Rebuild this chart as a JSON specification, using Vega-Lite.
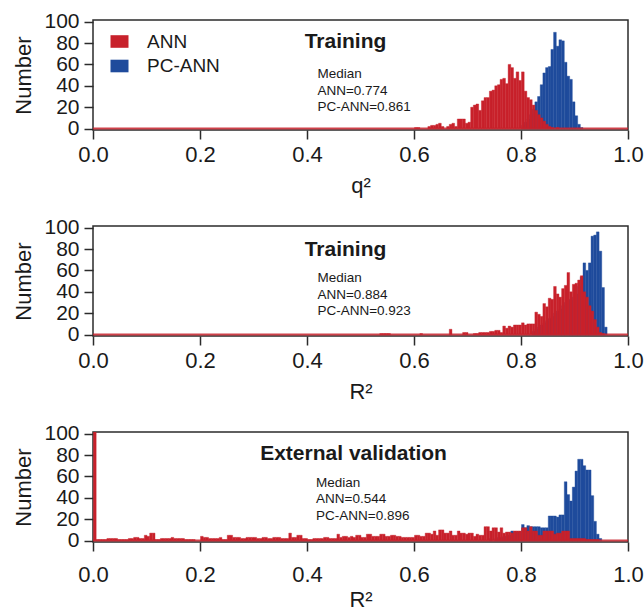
{
  "$schema": "https://vega.github.io/schema/vega-lite/v6.json",
  "padding": {"left": 12, "top": 9, "right": 0, "bottom": 0},
  "spacing": 18,
  "config": {
    "font": "Liberation Sans",
    "view": {"stroke": "#2b2b2b", "strokeWidth": 1.5},
    "axis": {
      "domain": false, "grid": false,
      "tickSize": 9, "tickWidth": 1.5, "tickColor": "#2b2b2b",
      "labelFont": "Liberation Sans", "labelFontSize": 22, "labelColor": "#1a1a1a",
      "labelOverlap": false, "labelFlush": false,
      "titleFont": "Liberation Sans", "titleFontSize": 22, "titleFontWeight": "normal", "titleColor": "#1a1a1a"
    },
    "axisX": {"labelPadding": 5, "titlePadding": 10, "tickCount": 6},
    "axisY": {"labelPadding": 5, "titlePadding": 8, "tickCount": 6, "labelFontSize": 21}
  },
  "resolve": {"scale": {"color": "independent"}, "legend": {"color": "independent"}},
  "datasets": {
    "hist": [
      {"panel": "q2train", "model": "ANN", "r": 0.600, "count": 1},
      {"panel": "q2train", "model": "ANN", "r": 0.605, "count": 1},
      {"panel": "q2train", "model": "ANN", "r": 0.625, "count": 2},
      {"panel": "q2train", "model": "ANN", "r": 0.630, "count": 3},
      {"panel": "q2train", "model": "ANN", "r": 0.635, "count": 3},
      {"panel": "q2train", "model": "ANN", "r": 0.640, "count": 4},
      {"panel": "q2train", "model": "ANN", "r": 0.645, "count": 5},
      {"panel": "q2train", "model": "ANN", "r": 0.650, "count": 2},
      {"panel": "q2train", "model": "ANN", "r": 0.660, "count": 2},
      {"panel": "q2train", "model": "ANN", "r": 0.665, "count": 4},
      {"panel": "q2train", "model": "ANN", "r": 0.670, "count": 5},
      {"panel": "q2train", "model": "ANN", "r": 0.675, "count": 2},
      {"panel": "q2train", "model": "ANN", "r": 0.680, "count": 9},
      {"panel": "q2train", "model": "ANN", "r": 0.685, "count": 9},
      {"panel": "q2train", "model": "ANN", "r": 0.690, "count": 9},
      {"panel": "q2train", "model": "ANN", "r": 0.695, "count": 5},
      {"panel": "q2train", "model": "ANN", "r": 0.700, "count": 6},
      {"panel": "q2train", "model": "ANN", "r": 0.705, "count": 20},
      {"panel": "q2train", "model": "ANN", "r": 0.710, "count": 22},
      {"panel": "q2train", "model": "ANN", "r": 0.715, "count": 23},
      {"panel": "q2train", "model": "ANN", "r": 0.720, "count": 17},
      {"panel": "q2train", "model": "ANN", "r": 0.725, "count": 26},
      {"panel": "q2train", "model": "ANN", "r": 0.730, "count": 29},
      {"panel": "q2train", "model": "ANN", "r": 0.735, "count": 29},
      {"panel": "q2train", "model": "ANN", "r": 0.740, "count": 35},
      {"panel": "q2train", "model": "ANN", "r": 0.745, "count": 36},
      {"panel": "q2train", "model": "ANN", "r": 0.750, "count": 40},
      {"panel": "q2train", "model": "ANN", "r": 0.755, "count": 41},
      {"panel": "q2train", "model": "ANN", "r": 0.760, "count": 46},
      {"panel": "q2train", "model": "ANN", "r": 0.765, "count": 47},
      {"panel": "q2train", "model": "ANN", "r": 0.770, "count": 42},
      {"panel": "q2train", "model": "ANN", "r": 0.775, "count": 60},
      {"panel": "q2train", "model": "ANN", "r": 0.780, "count": 57},
      {"panel": "q2train", "model": "ANN", "r": 0.785, "count": 47},
      {"panel": "q2train", "model": "ANN", "r": 0.790, "count": 53},
      {"panel": "q2train", "model": "ANN", "r": 0.795, "count": 45},
      {"panel": "q2train", "model": "ANN", "r": 0.800, "count": 53},
      {"panel": "q2train", "model": "ANN", "r": 0.805, "count": 35},
      {"panel": "q2train", "model": "ANN", "r": 0.810, "count": 29},
      {"panel": "q2train", "model": "ANN", "r": 0.815, "count": 27},
      {"panel": "q2train", "model": "ANN", "r": 0.820, "count": 22},
      {"panel": "q2train", "model": "ANN", "r": 0.825, "count": 17},
      {"panel": "q2train", "model": "ANN", "r": 0.830, "count": 13},
      {"panel": "q2train", "model": "ANN", "r": 0.835, "count": 10},
      {"panel": "q2train", "model": "ANN", "r": 0.840, "count": 7},
      {"panel": "q2train", "model": "ANN", "r": 0.845, "count": 4},
      {"panel": "q2train", "model": "ANN", "r": 0.850, "count": 2},
      {"panel": "q2train", "model": "ANN", "r": 0.855, "count": 1},
      {"panel": "q2train", "model": "ANN", "r": 0.865, "count": 1},

      {"panel": "q2train", "model": "PC-ANN", "r": 0.800, "count": 3},
      {"panel": "q2train", "model": "PC-ANN", "r": 0.805, "count": 6},
      {"panel": "q2train", "model": "PC-ANN", "r": 0.810, "count": 9},
      {"panel": "q2train", "model": "PC-ANN", "r": 0.815, "count": 13},
      {"panel": "q2train", "model": "PC-ANN", "r": 0.820, "count": 18},
      {"panel": "q2train", "model": "PC-ANN", "r": 0.825, "count": 25},
      {"panel": "q2train", "model": "PC-ANN", "r": 0.830, "count": 30},
      {"panel": "q2train", "model": "PC-ANN", "r": 0.835, "count": 41},
      {"panel": "q2train", "model": "PC-ANN", "r": 0.840, "count": 52},
      {"panel": "q2train", "model": "PC-ANN", "r": 0.845, "count": 57},
      {"panel": "q2train", "model": "PC-ANN", "r": 0.850, "count": 58},
      {"panel": "q2train", "model": "PC-ANN", "r": 0.855, "count": 74},
      {"panel": "q2train", "model": "PC-ANN", "r": 0.860, "count": 90},
      {"panel": "q2train", "model": "PC-ANN", "r": 0.865, "count": 77},
      {"panel": "q2train", "model": "PC-ANN", "r": 0.870, "count": 83},
      {"panel": "q2train", "model": "PC-ANN", "r": 0.875, "count": 82},
      {"panel": "q2train", "model": "PC-ANN", "r": 0.880, "count": 62},
      {"panel": "q2train", "model": "PC-ANN", "r": 0.885, "count": 49},
      {"panel": "q2train", "model": "PC-ANN", "r": 0.890, "count": 46},
      {"panel": "q2train", "model": "PC-ANN", "r": 0.895, "count": 25},
      {"panel": "q2train", "model": "PC-ANN", "r": 0.900, "count": 12},
      {"panel": "q2train", "model": "PC-ANN", "r": 0.905, "count": 4},
      {"panel": "q2train", "model": "PC-ANN", "r": 0.910, "count": 1},

      {"panel": "r2train", "model": "ANN", "r": 0.535, "count": 1},
      {"panel": "r2train", "model": "ANN", "r": 0.540, "count": 1},
      {"panel": "r2train", "model": "ANN", "r": 0.545, "count": 1},
      {"panel": "r2train", "model": "ANN", "r": 0.550, "count": 1},
      {"panel": "r2train", "model": "ANN", "r": 0.610, "count": 1},
      {"panel": "r2train", "model": "ANN", "r": 0.665, "count": 5},
      {"panel": "r2train", "model": "ANN", "r": 0.690, "count": 2},
      {"panel": "r2train", "model": "ANN", "r": 0.695, "count": 2},
      {"panel": "r2train", "model": "ANN", "r": 0.710, "count": 1},
      {"panel": "r2train", "model": "ANN", "r": 0.715, "count": 1},
      {"panel": "r2train", "model": "ANN", "r": 0.720, "count": 2},
      {"panel": "r2train", "model": "ANN", "r": 0.725, "count": 2},
      {"panel": "r2train", "model": "ANN", "r": 0.730, "count": 2},
      {"panel": "r2train", "model": "ANN", "r": 0.735, "count": 2},
      {"panel": "r2train", "model": "ANN", "r": 0.740, "count": 3},
      {"panel": "r2train", "model": "ANN", "r": 0.745, "count": 3},
      {"panel": "r2train", "model": "ANN", "r": 0.750, "count": 4},
      {"panel": "r2train", "model": "ANN", "r": 0.755, "count": 4},
      {"panel": "r2train", "model": "ANN", "r": 0.760, "count": 2},
      {"panel": "r2train", "model": "ANN", "r": 0.765, "count": 8},
      {"panel": "r2train", "model": "ANN", "r": 0.770, "count": 6},
      {"panel": "r2train", "model": "ANN", "r": 0.775, "count": 8},
      {"panel": "r2train", "model": "ANN", "r": 0.780, "count": 7},
      {"panel": "r2train", "model": "ANN", "r": 0.785, "count": 9},
      {"panel": "r2train", "model": "ANN", "r": 0.790, "count": 9},
      {"panel": "r2train", "model": "ANN", "r": 0.795, "count": 9},
      {"panel": "r2train", "model": "ANN", "r": 0.800, "count": 11},
      {"panel": "r2train", "model": "ANN", "r": 0.805, "count": 9},
      {"panel": "r2train", "model": "ANN", "r": 0.810, "count": 10},
      {"panel": "r2train", "model": "ANN", "r": 0.815, "count": 10},
      {"panel": "r2train", "model": "ANN", "r": 0.820, "count": 10},
      {"panel": "r2train", "model": "ANN", "r": 0.825, "count": 21},
      {"panel": "r2train", "model": "ANN", "r": 0.830, "count": 19},
      {"panel": "r2train", "model": "ANN", "r": 0.835, "count": 17},
      {"panel": "r2train", "model": "ANN", "r": 0.840, "count": 29},
      {"panel": "r2train", "model": "ANN", "r": 0.845, "count": 26},
      {"panel": "r2train", "model": "ANN", "r": 0.850, "count": 34},
      {"panel": "r2train", "model": "ANN", "r": 0.855, "count": 33},
      {"panel": "r2train", "model": "ANN", "r": 0.860, "count": 45},
      {"panel": "r2train", "model": "ANN", "r": 0.865, "count": 38},
      {"panel": "r2train", "model": "ANN", "r": 0.870, "count": 35},
      {"panel": "r2train", "model": "ANN", "r": 0.875, "count": 43},
      {"panel": "r2train", "model": "ANN", "r": 0.880, "count": 46},
      {"panel": "r2train", "model": "ANN", "r": 0.885, "count": 58},
      {"panel": "r2train", "model": "ANN", "r": 0.890, "count": 40},
      {"panel": "r2train", "model": "ANN", "r": 0.895, "count": 47},
      {"panel": "r2train", "model": "ANN", "r": 0.900, "count": 48},
      {"panel": "r2train", "model": "ANN", "r": 0.905, "count": 51},
      {"panel": "r2train", "model": "ANN", "r": 0.910, "count": 55},
      {"panel": "r2train", "model": "ANN", "r": 0.915, "count": 40},
      {"panel": "r2train", "model": "ANN", "r": 0.920, "count": 35},
      {"panel": "r2train", "model": "ANN", "r": 0.925, "count": 27},
      {"panel": "r2train", "model": "ANN", "r": 0.930, "count": 22},
      {"panel": "r2train", "model": "ANN", "r": 0.935, "count": 14},
      {"panel": "r2train", "model": "ANN", "r": 0.940, "count": 7},
      {"panel": "r2train", "model": "ANN", "r": 0.945, "count": 2},
      {"panel": "r2train", "model": "ANN", "r": 0.950, "count": 1},

      {"panel": "r2train", "model": "PC-ANN", "r": 0.820, "count": 3},
      {"panel": "r2train", "model": "PC-ANN", "r": 0.825, "count": 5},
      {"panel": "r2train", "model": "PC-ANN", "r": 0.830, "count": 7},
      {"panel": "r2train", "model": "PC-ANN", "r": 0.835, "count": 9},
      {"panel": "r2train", "model": "PC-ANN", "r": 0.840, "count": 11},
      {"panel": "r2train", "model": "PC-ANN", "r": 0.845, "count": 13},
      {"panel": "r2train", "model": "PC-ANN", "r": 0.850, "count": 15},
      {"panel": "r2train", "model": "PC-ANN", "r": 0.855, "count": 17},
      {"panel": "r2train", "model": "PC-ANN", "r": 0.860, "count": 20},
      {"panel": "r2train", "model": "PC-ANN", "r": 0.865, "count": 22},
      {"panel": "r2train", "model": "PC-ANN", "r": 0.870, "count": 24},
      {"panel": "r2train", "model": "PC-ANN", "r": 0.875, "count": 27},
      {"panel": "r2train", "model": "PC-ANN", "r": 0.880, "count": 30},
      {"panel": "r2train", "model": "PC-ANN", "r": 0.885, "count": 33},
      {"panel": "r2train", "model": "PC-ANN", "r": 0.890, "count": 32},
      {"panel": "r2train", "model": "PC-ANN", "r": 0.895, "count": 35},
      {"panel": "r2train", "model": "PC-ANN", "r": 0.900, "count": 38},
      {"panel": "r2train", "model": "PC-ANN", "r": 0.905, "count": 45},
      {"panel": "r2train", "model": "PC-ANN", "r": 0.910, "count": 54},
      {"panel": "r2train", "model": "PC-ANN", "r": 0.915, "count": 67},
      {"panel": "r2train", "model": "PC-ANN", "r": 0.920, "count": 60},
      {"panel": "r2train", "model": "PC-ANN", "r": 0.925, "count": 67},
      {"panel": "r2train", "model": "PC-ANN", "r": 0.930, "count": 92},
      {"panel": "r2train", "model": "PC-ANN", "r": 0.935, "count": 93},
      {"panel": "r2train", "model": "PC-ANN", "r": 0.940, "count": 96},
      {"panel": "r2train", "model": "PC-ANN", "r": 0.945, "count": 78},
      {"panel": "r2train", "model": "PC-ANN", "r": 0.950, "count": 44},
      {"panel": "r2train", "model": "PC-ANN", "r": 0.955, "count": 7},

      {"panel": "r2ext", "model": "ANN", "r": 0.000, "count": 130},
      {"panel": "r2ext", "model": "ANN", "r": 0.005, "count": 1},
      {"panel": "r2ext", "model": "ANN", "r": 0.010, "count": 1},
      {"panel": "r2ext", "model": "ANN", "r": 0.015, "count": 1},
      {"panel": "r2ext", "model": "ANN", "r": 0.020, "count": 1},
      {"panel": "r2ext", "model": "ANN", "r": 0.025, "count": 2},
      {"panel": "r2ext", "model": "ANN", "r": 0.030, "count": 2},
      {"panel": "r2ext", "model": "ANN", "r": 0.035, "count": 2},
      {"panel": "r2ext", "model": "ANN", "r": 0.040, "count": 2},
      {"panel": "r2ext", "model": "ANN", "r": 0.045, "count": 1},
      {"panel": "r2ext", "model": "ANN", "r": 0.050, "count": 1},
      {"panel": "r2ext", "model": "ANN", "r": 0.055, "count": 1},
      {"panel": "r2ext", "model": "ANN", "r": 0.060, "count": 1},
      {"panel": "r2ext", "model": "ANN", "r": 0.065, "count": 2},
      {"panel": "r2ext", "model": "ANN", "r": 0.070, "count": 2},
      {"panel": "r2ext", "model": "ANN", "r": 0.075, "count": 3},
      {"panel": "r2ext", "model": "ANN", "r": 0.080, "count": 3},
      {"panel": "r2ext", "model": "ANN", "r": 0.085, "count": 2},
      {"panel": "r2ext", "model": "ANN", "r": 0.090, "count": 2},
      {"panel": "r2ext", "model": "ANN", "r": 0.095, "count": 5},
      {"panel": "r2ext", "model": "ANN", "r": 0.100, "count": 4},
      {"panel": "r2ext", "model": "ANN", "r": 0.105, "count": 7},
      {"panel": "r2ext", "model": "ANN", "r": 0.110, "count": 7},
      {"panel": "r2ext", "model": "ANN", "r": 0.115, "count": 1},
      {"panel": "r2ext", "model": "ANN", "r": 0.120, "count": 1},
      {"panel": "r2ext", "model": "ANN", "r": 0.125, "count": 2},
      {"panel": "r2ext", "model": "ANN", "r": 0.130, "count": 2},
      {"panel": "r2ext", "model": "ANN", "r": 0.135, "count": 2},
      {"panel": "r2ext", "model": "ANN", "r": 0.140, "count": 2},
      {"panel": "r2ext", "model": "ANN", "r": 0.145, "count": 3},
      {"panel": "r2ext", "model": "ANN", "r": 0.150, "count": 2},
      {"panel": "r2ext", "model": "ANN", "r": 0.155, "count": 2},
      {"panel": "r2ext", "model": "ANN", "r": 0.160, "count": 2},
      {"panel": "r2ext", "model": "ANN", "r": 0.165, "count": 2},
      {"panel": "r2ext", "model": "ANN", "r": 0.170, "count": 1},
      {"panel": "r2ext", "model": "ANN", "r": 0.175, "count": 1},
      {"panel": "r2ext", "model": "ANN", "r": 0.180, "count": 1},
      {"panel": "r2ext", "model": "ANN", "r": 0.185, "count": 1},
      {"panel": "r2ext", "model": "ANN", "r": 0.200, "count": 4},
      {"panel": "r2ext", "model": "ANN", "r": 0.205, "count": 3},
      {"panel": "r2ext", "model": "ANN", "r": 0.210, "count": 3},
      {"panel": "r2ext", "model": "ANN", "r": 0.215, "count": 2},
      {"panel": "r2ext", "model": "ANN", "r": 0.220, "count": 2},
      {"panel": "r2ext", "model": "ANN", "r": 0.225, "count": 2},
      {"panel": "r2ext", "model": "ANN", "r": 0.230, "count": 2},
      {"panel": "r2ext", "model": "ANN", "r": 0.235, "count": 3},
      {"panel": "r2ext", "model": "ANN", "r": 0.240, "count": 1},
      {"panel": "r2ext", "model": "ANN", "r": 0.245, "count": 1},
      {"panel": "r2ext", "model": "ANN", "r": 0.250, "count": 5},
      {"panel": "r2ext", "model": "ANN", "r": 0.255, "count": 5},
      {"panel": "r2ext", "model": "ANN", "r": 0.260, "count": 3},
      {"panel": "r2ext", "model": "ANN", "r": 0.265, "count": 3},
      {"panel": "r2ext", "model": "ANN", "r": 0.270, "count": 3},
      {"panel": "r2ext", "model": "ANN", "r": 0.275, "count": 2},
      {"panel": "r2ext", "model": "ANN", "r": 0.280, "count": 2},
      {"panel": "r2ext", "model": "ANN", "r": 0.285, "count": 3},
      {"panel": "r2ext", "model": "ANN", "r": 0.290, "count": 3},
      {"panel": "r2ext", "model": "ANN", "r": 0.295, "count": 3},
      {"panel": "r2ext", "model": "ANN", "r": 0.300, "count": 3},
      {"panel": "r2ext", "model": "ANN", "r": 0.305, "count": 2},
      {"panel": "r2ext", "model": "ANN", "r": 0.310, "count": 2},
      {"panel": "r2ext", "model": "ANN", "r": 0.315, "count": 3},
      {"panel": "r2ext", "model": "ANN", "r": 0.320, "count": 3},
      {"panel": "r2ext", "model": "ANN", "r": 0.325, "count": 2},
      {"panel": "r2ext", "model": "ANN", "r": 0.330, "count": 2},
      {"panel": "r2ext", "model": "ANN", "r": 0.335, "count": 3},
      {"panel": "r2ext", "model": "ANN", "r": 0.340, "count": 3},
      {"panel": "r2ext", "model": "ANN", "r": 0.345, "count": 3},
      {"panel": "r2ext", "model": "ANN", "r": 0.350, "count": 2},
      {"panel": "r2ext", "model": "ANN", "r": 0.355, "count": 2},
      {"panel": "r2ext", "model": "ANN", "r": 0.360, "count": 2},
      {"panel": "r2ext", "model": "ANN", "r": 0.365, "count": 7},
      {"panel": "r2ext", "model": "ANN", "r": 0.370, "count": 3},
      {"panel": "r2ext", "model": "ANN", "r": 0.375, "count": 3},
      {"panel": "r2ext", "model": "ANN", "r": 0.380, "count": 5},
      {"panel": "r2ext", "model": "ANN", "r": 0.385, "count": 5},
      {"panel": "r2ext", "model": "ANN", "r": 0.390, "count": 2},
      {"panel": "r2ext", "model": "ANN", "r": 0.395, "count": 2},
      {"panel": "r2ext", "model": "ANN", "r": 0.400, "count": 1},
      {"panel": "r2ext", "model": "ANN", "r": 0.405, "count": 1},
      {"panel": "r2ext", "model": "ANN", "r": 0.410, "count": 2},
      {"panel": "r2ext", "model": "ANN", "r": 0.415, "count": 2},
      {"panel": "r2ext", "model": "ANN", "r": 0.420, "count": 2},
      {"panel": "r2ext", "model": "ANN", "r": 0.425, "count": 2},
      {"panel": "r2ext", "model": "ANN", "r": 0.430, "count": 3},
      {"panel": "r2ext", "model": "ANN", "r": 0.435, "count": 3},
      {"panel": "r2ext", "model": "ANN", "r": 0.440, "count": 2},
      {"panel": "r2ext", "model": "ANN", "r": 0.445, "count": 2},
      {"panel": "r2ext", "model": "ANN", "r": 0.450, "count": 2},
      {"panel": "r2ext", "model": "ANN", "r": 0.455, "count": 6},
      {"panel": "r2ext", "model": "ANN", "r": 0.460, "count": 3},
      {"panel": "r2ext", "model": "ANN", "r": 0.465, "count": 4},
      {"panel": "r2ext", "model": "ANN", "r": 0.470, "count": 4},
      {"panel": "r2ext", "model": "ANN", "r": 0.475, "count": 3},
      {"panel": "r2ext", "model": "ANN", "r": 0.480, "count": 4},
      {"panel": "r2ext", "model": "ANN", "r": 0.485, "count": 3},
      {"panel": "r2ext", "model": "ANN", "r": 0.490, "count": 5},
      {"panel": "r2ext", "model": "ANN", "r": 0.495, "count": 5},
      {"panel": "r2ext", "model": "ANN", "r": 0.500, "count": 3},
      {"panel": "r2ext", "model": "ANN", "r": 0.505, "count": 3},
      {"panel": "r2ext", "model": "ANN", "r": 0.510, "count": 6},
      {"panel": "r2ext", "model": "ANN", "r": 0.515, "count": 6},
      {"panel": "r2ext", "model": "ANN", "r": 0.520, "count": 4},
      {"panel": "r2ext", "model": "ANN", "r": 0.525, "count": 4},
      {"panel": "r2ext", "model": "ANN", "r": 0.530, "count": 4},
      {"panel": "r2ext", "model": "ANN", "r": 0.535, "count": 6},
      {"panel": "r2ext", "model": "ANN", "r": 0.540, "count": 6},
      {"panel": "r2ext", "model": "ANN", "r": 0.545, "count": 4},
      {"panel": "r2ext", "model": "ANN", "r": 0.550, "count": 4},
      {"panel": "r2ext", "model": "ANN", "r": 0.555, "count": 5},
      {"panel": "r2ext", "model": "ANN", "r": 0.560, "count": 5},
      {"panel": "r2ext", "model": "ANN", "r": 0.565, "count": 4},
      {"panel": "r2ext", "model": "ANN", "r": 0.570, "count": 4},
      {"panel": "r2ext", "model": "ANN", "r": 0.575, "count": 3},
      {"panel": "r2ext", "model": "ANN", "r": 0.580, "count": 3},
      {"panel": "r2ext", "model": "ANN", "r": 0.585, "count": 3},
      {"panel": "r2ext", "model": "ANN", "r": 0.590, "count": 3},
      {"panel": "r2ext", "model": "ANN", "r": 0.595, "count": 3},
      {"panel": "r2ext", "model": "ANN", "r": 0.600, "count": 5},
      {"panel": "r2ext", "model": "ANN", "r": 0.605, "count": 5},
      {"panel": "r2ext", "model": "ANN", "r": 0.610, "count": 4},
      {"panel": "r2ext", "model": "ANN", "r": 0.615, "count": 4},
      {"panel": "r2ext", "model": "ANN", "r": 0.620, "count": 7},
      {"panel": "r2ext", "model": "ANN", "r": 0.625, "count": 7},
      {"panel": "r2ext", "model": "ANN", "r": 0.630, "count": 6},
      {"panel": "r2ext", "model": "ANN", "r": 0.635, "count": 9},
      {"panel": "r2ext", "model": "ANN", "r": 0.640, "count": 5},
      {"panel": "r2ext", "model": "ANN", "r": 0.645, "count": 10},
      {"panel": "r2ext", "model": "ANN", "r": 0.650, "count": 10},
      {"panel": "r2ext", "model": "ANN", "r": 0.655, "count": 7},
      {"panel": "r2ext", "model": "ANN", "r": 0.660, "count": 7},
      {"panel": "r2ext", "model": "ANN", "r": 0.665, "count": 9},
      {"panel": "r2ext", "model": "ANN", "r": 0.670, "count": 5},
      {"panel": "r2ext", "model": "ANN", "r": 0.675, "count": 5},
      {"panel": "r2ext", "model": "ANN", "r": 0.680, "count": 9},
      {"panel": "r2ext", "model": "ANN", "r": 0.685, "count": 7},
      {"panel": "r2ext", "model": "ANN", "r": 0.690, "count": 7},
      {"panel": "r2ext", "model": "ANN", "r": 0.695, "count": 6},
      {"panel": "r2ext", "model": "ANN", "r": 0.700, "count": 7},
      {"panel": "r2ext", "model": "ANN", "r": 0.705, "count": 7},
      {"panel": "r2ext", "model": "ANN", "r": 0.710, "count": 4},
      {"panel": "r2ext", "model": "ANN", "r": 0.715, "count": 6},
      {"panel": "r2ext", "model": "ANN", "r": 0.720, "count": 5},
      {"panel": "r2ext", "model": "ANN", "r": 0.725, "count": 5},
      {"panel": "r2ext", "model": "ANN", "r": 0.730, "count": 13},
      {"panel": "r2ext", "model": "ANN", "r": 0.735, "count": 13},
      {"panel": "r2ext", "model": "ANN", "r": 0.740, "count": 9},
      {"panel": "r2ext", "model": "ANN", "r": 0.745, "count": 12},
      {"panel": "r2ext", "model": "ANN", "r": 0.750, "count": 12},
      {"panel": "r2ext", "model": "ANN", "r": 0.755, "count": 8},
      {"panel": "r2ext", "model": "ANN", "r": 0.760, "count": 12},
      {"panel": "r2ext", "model": "ANN", "r": 0.765, "count": 7},
      {"panel": "r2ext", "model": "ANN", "r": 0.770, "count": 8},
      {"panel": "r2ext", "model": "ANN", "r": 0.775, "count": 8},
      {"panel": "r2ext", "model": "ANN", "r": 0.780, "count": 7},
      {"panel": "r2ext", "model": "ANN", "r": 0.785, "count": 9},
      {"panel": "r2ext", "model": "ANN", "r": 0.790, "count": 9},
      {"panel": "r2ext", "model": "ANN", "r": 0.795, "count": 9},
      {"panel": "r2ext", "model": "ANN", "r": 0.800, "count": 12},
      {"panel": "r2ext", "model": "ANN", "r": 0.805, "count": 12},
      {"panel": "r2ext", "model": "ANN", "r": 0.810, "count": 9},
      {"panel": "r2ext", "model": "ANN", "r": 0.815, "count": 13},
      {"panel": "r2ext", "model": "ANN", "r": 0.820, "count": 9},
      {"panel": "r2ext", "model": "ANN", "r": 0.825, "count": 9},
      {"panel": "r2ext", "model": "ANN", "r": 0.830, "count": 5},
      {"panel": "r2ext", "model": "ANN", "r": 0.835, "count": 5},
      {"panel": "r2ext", "model": "ANN", "r": 0.840, "count": 9},
      {"panel": "r2ext", "model": "ANN", "r": 0.845, "count": 9},
      {"panel": "r2ext", "model": "ANN", "r": 0.850, "count": 9},
      {"panel": "r2ext", "model": "ANN", "r": 0.855, "count": 9},
      {"panel": "r2ext", "model": "ANN", "r": 0.860, "count": 6},
      {"panel": "r2ext", "model": "ANN", "r": 0.865, "count": 7},
      {"panel": "r2ext", "model": "ANN", "r": 0.870, "count": 7},
      {"panel": "r2ext", "model": "ANN", "r": 0.875, "count": 9},
      {"panel": "r2ext", "model": "ANN", "r": 0.880, "count": 9},
      {"panel": "r2ext", "model": "ANN", "r": 0.885, "count": 9},
      {"panel": "r2ext", "model": "ANN", "r": 0.890, "count": 2},
      {"panel": "r2ext", "model": "ANN", "r": 0.895, "count": 2},
      {"panel": "r2ext", "model": "ANN", "r": 0.900, "count": 2},
      {"panel": "r2ext", "model": "ANN", "r": 0.905, "count": 2},
      {"panel": "r2ext", "model": "ANN", "r": 0.910, "count": 2},
      {"panel": "r2ext", "model": "ANN", "r": 0.915, "count": 2},
      {"panel": "r2ext", "model": "ANN", "r": 0.920, "count": 1},
      {"panel": "r2ext", "model": "ANN", "r": 0.925, "count": 1},
      {"panel": "r2ext", "model": "ANN", "r": 0.930, "count": 1},
      {"panel": "r2ext", "model": "ANN", "r": 0.935, "count": 1},
      {"panel": "r2ext", "model": "ANN", "r": 0.940, "count": 1},

      {"panel": "r2ext", "model": "PC-ANN", "r": 0.740, "count": 2},
      {"panel": "r2ext", "model": "PC-ANN", "r": 0.750, "count": 2},
      {"panel": "r2ext", "model": "PC-ANN", "r": 0.755, "count": 3},
      {"panel": "r2ext", "model": "PC-ANN", "r": 0.760, "count": 3},
      {"panel": "r2ext", "model": "PC-ANN", "r": 0.765, "count": 4},
      {"panel": "r2ext", "model": "PC-ANN", "r": 0.770, "count": 4},
      {"panel": "r2ext", "model": "PC-ANN", "r": 0.775, "count": 5},
      {"panel": "r2ext", "model": "PC-ANN", "r": 0.780, "count": 9},
      {"panel": "r2ext", "model": "PC-ANN", "r": 0.785, "count": 8},
      {"panel": "r2ext", "model": "PC-ANN", "r": 0.790, "count": 8},
      {"panel": "r2ext", "model": "PC-ANN", "r": 0.795, "count": 8},
      {"panel": "r2ext", "model": "PC-ANN", "r": 0.800, "count": 15},
      {"panel": "r2ext", "model": "PC-ANN", "r": 0.805, "count": 12},
      {"panel": "r2ext", "model": "PC-ANN", "r": 0.810, "count": 14},
      {"panel": "r2ext", "model": "PC-ANN", "r": 0.815, "count": 13},
      {"panel": "r2ext", "model": "PC-ANN", "r": 0.820, "count": 13},
      {"panel": "r2ext", "model": "PC-ANN", "r": 0.825, "count": 13},
      {"panel": "r2ext", "model": "PC-ANN", "r": 0.830, "count": 13},
      {"panel": "r2ext", "model": "PC-ANN", "r": 0.835, "count": 12},
      {"panel": "r2ext", "model": "PC-ANN", "r": 0.840, "count": 12},
      {"panel": "r2ext", "model": "PC-ANN", "r": 0.845, "count": 12},
      {"panel": "r2ext", "model": "PC-ANN", "r": 0.850, "count": 23},
      {"panel": "r2ext", "model": "PC-ANN", "r": 0.855, "count": 23},
      {"panel": "r2ext", "model": "PC-ANN", "r": 0.860, "count": 23},
      {"panel": "r2ext", "model": "PC-ANN", "r": 0.865, "count": 22},
      {"panel": "r2ext", "model": "PC-ANN", "r": 0.870, "count": 24},
      {"panel": "r2ext", "model": "PC-ANN", "r": 0.875, "count": 24},
      {"panel": "r2ext", "model": "PC-ANN", "r": 0.880, "count": 55},
      {"panel": "r2ext", "model": "PC-ANN", "r": 0.885, "count": 43},
      {"panel": "r2ext", "model": "PC-ANN", "r": 0.890, "count": 37},
      {"panel": "r2ext", "model": "PC-ANN", "r": 0.895, "count": 50},
      {"panel": "r2ext", "model": "PC-ANN", "r": 0.900, "count": 65},
      {"panel": "r2ext", "model": "PC-ANN", "r": 0.905, "count": 76},
      {"panel": "r2ext", "model": "PC-ANN", "r": 0.910, "count": 76},
      {"panel": "r2ext", "model": "PC-ANN", "r": 0.915, "count": 70},
      {"panel": "r2ext", "model": "PC-ANN", "r": 0.920, "count": 66},
      {"panel": "r2ext", "model": "PC-ANN", "r": 0.925, "count": 66},
      {"panel": "r2ext", "model": "PC-ANN", "r": 0.930, "count": 42},
      {"panel": "r2ext", "model": "PC-ANN", "r": 0.935, "count": 18},
      {"panel": "r2ext", "model": "PC-ANN", "r": 0.940, "count": 6},
      {"panel": "r2ext", "model": "PC-ANN", "r": 0.945, "count": 2}
    ]
  },
  "vconcat": [
    {
      "width": 535,
      "height": 110,
      "layer": [
        {
          "data": {"name": "hist"},
          "transform": [{"filter": "datum.panel === 'q2train' && datum.model === 'PC-ANN'"}],
          "mark": {"type": "bar", "binSpacing": 0, "clip": true, "stroke": "#1f4b9c", "strokeWidth": 0.4},
          "encoding": {
            "x": {"field": "r", "type": "quantitative", "bin": {"binned": true, "step": 0.005},
                  "scale": {"domain": [0, 1], "nice": false, "zero": false},
                  "axis": {"values": [0, 0.2, 0.4, 0.6, 0.8, 1], "format": ".1f", "title": "q²", "labelOverlap": false}},
            "y": {"field": "count", "type": "quantitative",
                  "scale": {"domain": [-1.3, 101.5], "nice": false, "zero": false},
                  "axis": {"values": [0, 20, 40, 60, 80, 100], "title": "Number", "labelOverlap": false}},
            "color": {"field": "model", "type": "nominal",
                      "scale": {"domain": ["ANN", "PC-ANN"], "range": ["#c8212b", "#1f4b9c"]},
                      "legend": {"orient": "none", "legendX": 17, "legendY": 12, "title": null,
                                 "symbolType": "M-1,-0.7H1V0.7H-1Z", "symbolSize": 324,
                                 "symbolStrokeWidth": 0, "symbolOpacity": 1,
                                 "labelFont": "Liberation Sans", "labelFontSize": 19, "labelColor": "#1a1a1a",
                                 "labelOffset": 18, "rowPadding": 4.5, "padding": 0}}
          }
        },
        {
          "data": {"name": "hist"},
          "transform": [{"filter": "datum.panel === 'q2train' && datum.model === 'ANN'"}],
          "mark": {"type": "bar", "binSpacing": 0, "clip": true, "stroke": "#c8212b", "strokeWidth": 0.4},
          "encoding": {
            "x": {"field": "r", "type": "quantitative", "bin": {"binned": true, "step": 0.005},
                  "axis": {"values": [0, 0.2, 0.4, 0.6, 0.8, 1], "format": ".1f", "title": "q²", "labelOverlap": false}},
            "y": {"field": "count", "type": "quantitative", "axis": {"values": [0, 20, 40, 60, 80, 100], "title": "Number", "labelOverlap": false}},
            "color": {"field": "model", "type": "nominal"}
          }
        },
        {
          "data": {"values": [{}]},
          "mark": {"type": "rule", "color": "#c8212b", "strokeWidth": 2, "opacity": 0.85},
          "encoding": {"x": {"datum": 0}, "x2": {"datum": 1}, "y": {"datum": 0}}
        },
        {
          "data": {"values": [{}]},
          "mark": {"type": "text", "text": "Training", "font": "Liberation Sans", "fontSize": 21, "fontWeight": "bold", "color": "#1a1a1a", "align": "center", "baseline": "middle"},
          "encoding": {"x": {"datum": 0.472}, "y": {"datum": 80.9}}
        },
        {
          "data": {"values": [{}]},
          "mark": {"type": "text", "text": ["Median", "ANN=0.774", "PC-ANN=0.861"], "font": "Liberation Sans", "fontSize": 13.5, "lineHeight": 16.5, "color": "#1a1a1a", "align": "left", "baseline": "top"},
          "encoding": {"x": {"datum": 0.4195}, "y": {"datum": 57.5}}
        }
      ]
    },
    {
      "width": 535,
      "height": 110,
      "layer": [
        {
          "data": {"name": "hist"},
          "transform": [{"filter": "datum.panel === 'r2train' && datum.model === 'PC-ANN'"}],
          "mark": {"type": "bar", "binSpacing": 0, "clip": true, "color": "#1f4b9c", "stroke": "#1f4b9c", "strokeWidth": 0.4},
          "encoding": {
            "x": {"field": "r", "type": "quantitative", "bin": {"binned": true, "step": 0.005},
                  "scale": {"domain": [0, 1], "nice": false, "zero": false},
                  "axis": {"values": [0, 0.2, 0.4, 0.6, 0.8, 1], "format": ".1f", "title": "R²", "labelOverlap": false}},
            "y": {"field": "count", "type": "quantitative",
                  "scale": {"domain": [-1.3, 101.5], "nice": false, "zero": false},
                  "axis": {"values": [0, 20, 40, 60, 80, 100], "title": "Number", "labelOverlap": false}}
          }
        },
        {
          "data": {"name": "hist"},
          "transform": [{"filter": "datum.panel === 'r2train' && datum.model === 'ANN'"}],
          "mark": {"type": "bar", "binSpacing": 0, "clip": true, "color": "#c8212b", "stroke": "#c8212b", "strokeWidth": 0.4},
          "encoding": {
            "x": {"field": "r", "type": "quantitative", "bin": {"binned": true, "step": 0.005},
                  "axis": {"values": [0, 0.2, 0.4, 0.6, 0.8, 1], "format": ".1f", "title": "R²", "labelOverlap": false}},
            "y": {"field": "count", "type": "quantitative", "axis": {"values": [0, 20, 40, 60, 80, 100], "title": "Number", "labelOverlap": false}}
          }
        },
        {
          "data": {"values": [{}]},
          "mark": {"type": "rule", "color": "#c8212b", "strokeWidth": 2, "opacity": 0.85},
          "encoding": {"x": {"datum": 0}, "x2": {"datum": 1}, "y": {"datum": 0}}
        },
        {
          "data": {"values": [{}]},
          "mark": {"type": "text", "text": "Training", "font": "Liberation Sans", "fontSize": 21, "fontWeight": "bold", "color": "#1a1a1a", "align": "center", "baseline": "middle"},
          "encoding": {"x": {"datum": 0.472}, "y": {"datum": 79.4}}
        },
        {
          "data": {"values": [{}]},
          "mark": {"type": "text", "text": ["Median", "ANN=0.884", "PC-ANN=0.923"], "font": "Liberation Sans", "fontSize": 13.5, "lineHeight": 16.5, "color": "#1a1a1a", "align": "left", "baseline": "top"},
          "encoding": {"x": {"datum": 0.4195}, "y": {"datum": 59.4}}
        }
      ]
    },
    {
      "width": 535,
      "height": 110,
      "layer": [
        {
          "data": {"name": "hist"},
          "transform": [{"filter": "datum.panel === 'r2ext' && datum.model === 'PC-ANN'"}],
          "mark": {"type": "bar", "binSpacing": 0, "clip": true, "color": "#1f4b9c", "stroke": "#1f4b9c", "strokeWidth": 0.4},
          "encoding": {
            "x": {"field": "r", "type": "quantitative", "bin": {"binned": true, "step": 0.005},
                  "scale": {"domain": [0, 1], "nice": false, "zero": false},
                  "axis": {"values": [0, 0.2, 0.4, 0.6, 0.8, 1], "format": ".1f", "title": "R²", "labelOverlap": false, "labelPadding": 13, "titlePadding": 4}},
            "y": {"field": "count", "type": "quantitative",
                  "scale": {"domain": [-1.3, 101.5], "nice": false, "zero": false},
                  "axis": {"values": [0, 20, 40, 60, 80, 100], "title": "Number", "labelOverlap": false}}
          }
        },
        {
          "data": {"name": "hist"},
          "transform": [{"filter": "datum.panel === 'r2ext' && datum.model === 'ANN'"}],
          "mark": {"type": "bar", "binSpacing": 0, "clip": true, "color": "#c8212b", "stroke": "#c8212b", "strokeWidth": 0.4},
          "encoding": {
            "x": {"field": "r", "type": "quantitative", "bin": {"binned": true, "step": 0.005},
                  "axis": {"values": [0, 0.2, 0.4, 0.6, 0.8, 1], "format": ".1f", "title": "R²", "labelOverlap": false, "labelPadding": 13, "titlePadding": 4}},
            "y": {"field": "count", "type": "quantitative", "axis": {"values": [0, 20, 40, 60, 80, 100], "title": "Number", "labelOverlap": false}}
          }
        },
        {
          "data": {"values": [{}]},
          "mark": {"type": "rule", "color": "#c8212b", "strokeWidth": 2, "opacity": 0.85},
          "encoding": {"x": {"datum": 0}, "x2": {"datum": 1}, "y": {"datum": 0}}
        },
        {
          "data": {"values": [{}]},
          "mark": {"type": "text", "text": "External validation", "font": "Liberation Sans", "fontSize": 21, "fontWeight": "bold", "color": "#1a1a1a", "align": "center", "baseline": "middle"},
          "encoding": {"x": {"datum": 0.487}, "y": {"datum": 81.4}}
        },
        {
          "data": {"values": [{}]},
          "mark": {"type": "text", "text": ["Median", "ANN=0.544", "PC-ANN=0.896"], "font": "Liberation Sans", "fontSize": 13.5, "lineHeight": 16.5, "color": "#1a1a1a", "align": "left", "baseline": "top"},
          "encoding": {"x": {"datum": 0.417}, "y": {"datum": 60.7}}
        }
      ]
    }
  ]
}
